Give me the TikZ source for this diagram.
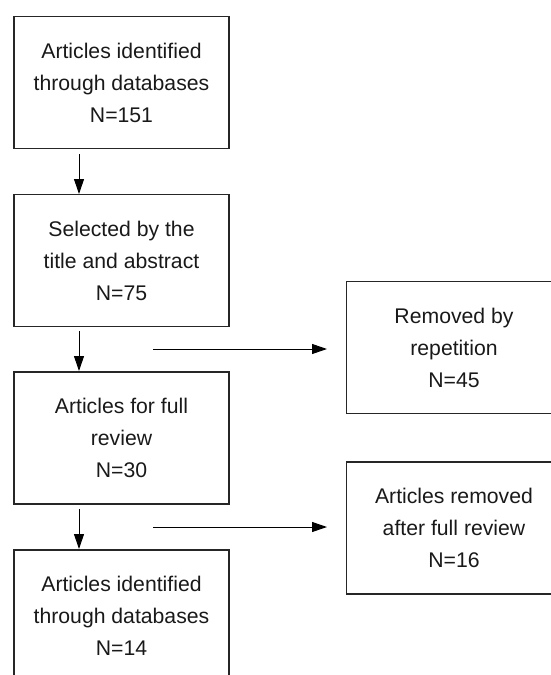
\documentclass[tikz,border=0pt]{standalone}
\usepackage{fontspec}
\setmainfont{Liberation Sans}
\usetikzlibrary{arrows.meta}
\begin{document}
\begin{tikzpicture}[x=1pt,y=-1pt,
  box/.style={draw=black!85,line width=1.1pt,minimum width=215pt,minimum height=132pt,
    align=center,inner sep=0pt,font=\fontsize{21.2}{32}\selectfont,text=black!90},
  arr/.style={line width=1pt,-{Triangle[length=15pt,width=10pt]}}]
\useasboundingbox (0,0) rectangle (551,675);
\clip (0,0) rectangle (551,675);
\node[box] (b1) at (121.5,82.5) {Articles identified\\through databases\\N=151};
\node[box] (b2) at (121.5,260.5) {Selected by the\\title and abstract\\N=75};
\node[box] (b3) at (121.5,438) {Articles for full\\review\\N=30};
\node[box] (b4) at (121.5,616) {Articles identified\\through databases\\N=14};
\node[box] (r1) at (454,347.5) {Removed by\\repetition\\N=45};
\node[box] (r2) at (454,528) {Articles removed\\after full review\\N=16};
\coordinate (a1s) at (79,154); \coordinate (a1e) at (79,194);
\coordinate (a2s) at (79,331); \coordinate (a2e) at (79,371);
\coordinate (a3s) at (79,509); \coordinate (a3e) at (79,549);
\coordinate (h1s) at (153,349); \coordinate (h1e) at (327,349);
\coordinate (h2s) at (153,527); \coordinate (h2e) at (327,527);
\draw[arr] (a1s) -- (a1e);
\draw[arr] (a2s) -- (a2e);
\draw[arr] (a3s) -- (a3e);
\draw[arr] (h1s) -- (h1e);
\draw[arr] (h2s) -- (h2e);
\end{tikzpicture}
\end{document}
